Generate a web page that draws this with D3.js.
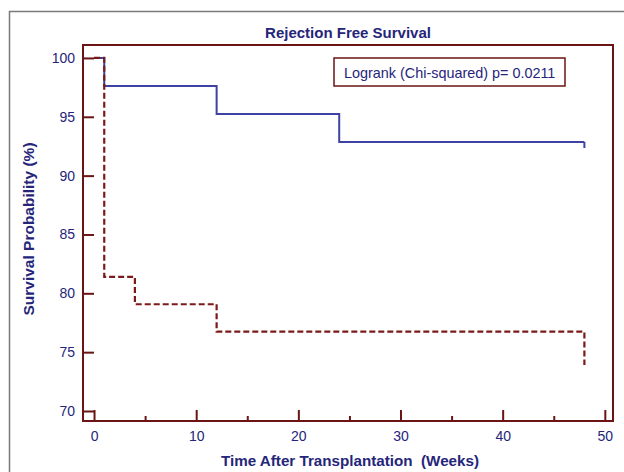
<!DOCTYPE html>
<html>
  <head>
    <meta charset="utf-8">
    <title>Rejection Free Survival</title>
    <style>
      body { margin: 0; background: #fff; }
      text { font-family: "Liberation Sans", Arial, sans-serif; white-space: pre; }
    </style>
  </head>
  <body>
    <script src="https://d3js.org/d3.v7.min.js"></script>
    <svg id="chart" width="624" height="472"></svg>
    <script>
      // Kaplan-Meier steps
      const blueTimes = [0, 1, 12, 24, 48]
      const blueSurv  = [100, 97.62, 95.24, 92.86, 92.86]
      const redTimes  = [0, 1, 4, 12, 48, 48]
      const redSurv   = [100, 81.4, 79.07, 76.74, 76.74, 73.9]
      const xTicks = [0, 10, 20, 30, 40, 50]
      const xMinor = [5, 15, 25, 35, 45]
      const yTicks = [70, 75, 80, 85, 90, 95, 100]
      const title = 'Rejection Free Survival'
      const xTitle = 'Time After Transplantation  (Weeks)'
      const yTitle = 'Survival Probability (%)'
      const legendText = 'Logrank (Chi-squared) p= 0.0211'

      const width = 624, height = 472
      const margin = { top: 45, right: 11, bottom: 51, left: 83 }
      const axisColor = '#6b1414'
      const textColor = '#25257a'
      const blue = '#3d42a3'

      const svg = d3.select('#chart')

      // outer frame of the figure
      svg.append('path')
        .attr('d', `M9.5,${height} V11.5 H${width}`)
        .attr('fill', 'none')
        .attr('stroke', '#7a7a7a')
        .attr('stroke-width', 1.5)

      const x = d3.scaleLinear([-1.08, 50.8], [margin.left, width - margin.right])
      const y = d3.scaleLinear([69.15, 101.1], [height - margin.bottom, margin.top])

      const xAxis = d3.axisBottom(x).tickValues(xTicks).tickSizeInner(-11).tickSizeOuter(0).tickPadding(10)
      const xAxisMinor = d3.axisBottom(x).tickValues(xMinor).tickSizeInner(-5).tickSizeOuter(0).tickFormat('')
      const yAxis = d3.axisLeft(y).tickValues(yTicks).tickSizeInner(-11).tickSizeOuter(0).tickPadding(8)

      const styleAxis = g => {
        g.select('.domain').remove()
        g.selectAll('line').attr('stroke', axisColor).attr('stroke-width', 2)
        g.selectAll('text').attr('fill', textColor).style('font-size', '14px')
          .style('font-family', '"Liberation Sans", Arial, sans-serif')
      }

      svg.append('g')
        .attr('transform', `translate(0,${height - margin.bottom})`)
        .call(xAxis).call(styleAxis)
      svg.append('g')
        .attr('transform', `translate(0,${height - margin.bottom})`)
        .call(xAxisMinor).call(styleAxis)
      svg.append('g')
        .attr('transform', `translate(${margin.left},0)`)
        .call(yAxis).call(styleAxis)

      // plot frame
      svg.append('rect')
        .attr('x', margin.left)
        .attr('y', margin.top)
        .attr('width', width - margin.left - margin.right)
        .attr('height', height - margin.top - margin.bottom)
        .attr('fill', 'none')
        .attr('stroke', axisColor)
        .attr('stroke-width', 2)

      const line = d3.line()
        .x(d => x(d[0]))
        .y(d => y(d[1]))
        .curve(d3.curveStepAfter)

      const blueData = blueTimes.map((t, i) => [t, blueSurv[i]])
      const redData = redTimes.map((t, i) => [t, redSurv[i]])

      svg.append('path')
        .attr('d', line(blueData))
        .attr('fill', 'none')
        .attr('stroke', blue)
        .attr('stroke-width', 2)

      // censor tick at the end of the blue curve
      const last = blueData[blueData.length - 1]
      svg.append('line')
        .attr('x1', x(last[0])).attr('x2', x(last[0]))
        .attr('y1', y(last[1])).attr('y2', y(last[1]) + 6)
        .attr('stroke', blue)
        .attr('stroke-width', 2)

      svg.append('path')
        .attr('d', line(redData))
        .attr('fill', 'none')
        .attr('stroke', '#7a1a1a')
        .attr('stroke-width', 2.2)
        .attr('stroke-dasharray', '6,3')

      // legend box
      const legend = svg.append('g').attr('transform', 'translate(334,58)')
      legend.append('rect')
        .attr('width', 231).attr('height', 28)
        .attr('fill', '#fff')
        .attr('stroke', axisColor)
        .attr('stroke-width', 1.5)
      legend.append('text')
        .attr('x', 10).attr('y', 19.5)
        .attr('fill', textColor)
        .style('font-size', '14.4px')
        .text(legendText)

      svg.append('text')
        .attr('x', 348).attr('y', 38)
        .attr('text-anchor', 'middle')
        .attr('fill', textColor)
        .style('font-size', '15px')
        .style('font-weight', 'bold')
        .text(title)

      svg.append('text')
        .attr('x', 350).attr('y', 466)
        .attr('text-anchor', 'middle')
        .attr('fill', textColor)
        .style('font-size', '15.2px')
        .style('font-weight', 'bold')
        .text(xTitle)

      svg.append('text')
        .attr('transform', 'translate(34,229) rotate(-90)')
        .attr('text-anchor', 'middle')
        .attr('fill', textColor)
        .style('font-size', '15.5px')
        .style('font-weight', 'bold')
        .text(yTitle)
    </script>
  </body>
</html>
